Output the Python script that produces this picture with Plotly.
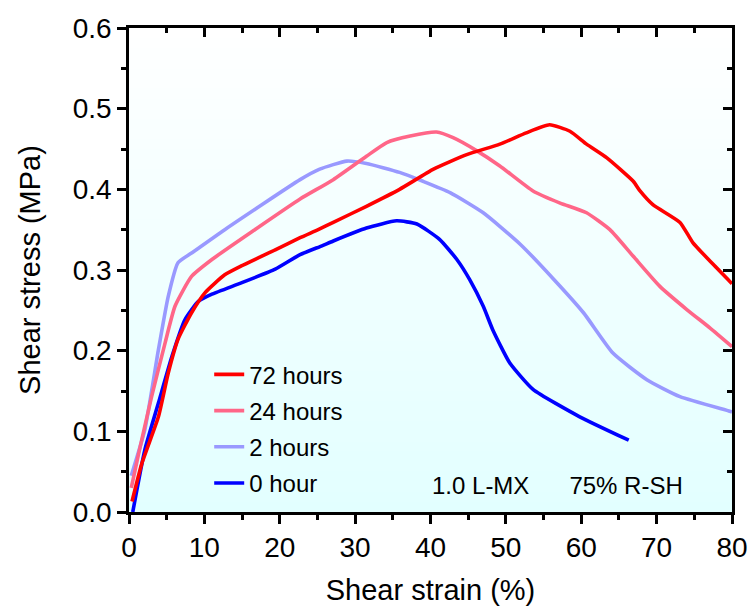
import plotly.graph_objects as go

# ---- data ----
x_72h = [0.4, 1.7, 3.9, 5.2, 6.5, 8.3, 10.1, 12.7, 14.9, 19.4, 22.7, 25.1, 27.1, 31.5, 35.9, 40.4,
         44.8, 49.2, 52.7, 55.8, 58.5, 60.7, 63.4, 66.9, 67.8, 69.5, 73.1, 74.8, 77.5, 80.0]
y_72h = [0.013, 0.060, 0.118, 0.172, 0.214, 0.247, 0.272, 0.294, 0.305, 0.325, 0.340, 0.350, 0.359,
         0.379, 0.400, 0.425, 0.443, 0.456, 0.470, 0.480, 0.472, 0.456, 0.439, 0.410, 0.398, 0.381,
         0.359, 0.334, 0.307, 0.283]

x_24h = [0.3, 1.2, 3.0, 4.8, 6.1, 8.3, 11.0, 16.7, 22.7, 27.1, 31.5, 34.2, 37.3, 40.8, 43.0, 46.1,
         49.2, 53.6, 57.2, 60.7, 63.8, 66.9, 70.4, 74.0, 77.1, 80.0]
y_24h = [0.030, 0.069, 0.143, 0.210, 0.255, 0.292, 0.313, 0.350, 0.388, 0.412, 0.441, 0.458, 0.466,
         0.471, 0.464, 0.448, 0.429, 0.398, 0.383, 0.371, 0.350, 0.317, 0.280, 0.251, 0.228, 0.205]

x_2h = [0.3, 2.1, 3.9, 5.2, 6.5, 8.3, 12.7, 22.7, 25.3, 28.9, 31.5, 35.9, 39.0, 42.6, 47.0, 51.9,
        56.4, 60.3, 64.2, 68.7, 73.1, 79.7, 80.0]
y_2h = [0.045, 0.102, 0.201, 0.267, 0.309, 0.321, 0.350, 0.412, 0.425, 0.435, 0.432, 0.421, 0.410,
        0.396, 0.371, 0.332, 0.288, 0.247, 0.197, 0.164, 0.143, 0.125, 0.124]

x_0h = [0.5, 2.1, 3.9, 5.7, 7.4, 9.2, 11.0, 14.9, 19.4, 22.7, 25.6, 27.1, 31.5, 35.5, 38.2, 41.2,
        43.5, 45.2, 47.0, 48.3, 50.5, 53.6, 59.8, 66.3]
y_0h = [0.0, 0.077, 0.135, 0.193, 0.238, 0.261, 0.270, 0.284, 0.301, 0.319, 0.330, 0.336, 0.352,
        0.361, 0.357, 0.338, 0.313, 0.288, 0.255, 0.225, 0.185, 0.152, 0.118, 0.089]

# (name, x, y, colour, legend rank) — drawn bottom to top
series = [
    ("0 hour", x_0h, y_0h, "#0000FF", 4),
    ("2 hours", x_2h, y_2h, "#9999FF", 3),
    ("24 hours", x_24h, y_24h, "#FF6688", 2),
    ("72 hours", x_72h, y_72h, "#FF0000", 1),
]

x_ticks = [0, 10, 20, 30, 40, 50, 60, 70, 80]
y_ticks = [0.0, 0.1, 0.2, 0.3, 0.4, 0.5, 0.6]

FONT = "Arial, Liberation Sans, sans-serif"

fig = go.Figure()
for name, xs, ys, col, rank in series:
    fig.add_trace(go.Scatter(x=xs, y=ys, name=name, mode="lines",
                             line=dict(color=col, width=3.6, shape="spline", smoothing=0.5),
                             legendgroup=name, legendrank=rank))
# empty trace so the mirrored (top/right) axes are drawn
fig.add_trace(go.Scatter(x=[None], y=[None], xaxis="x2", yaxis="y2", showlegend=False,
                         hoverinfo="skip", mode="lines"))

# gradient background (white -> light cyan)
N = 48
shapes = []
for i in range(N):
    t = (i + 0.5) / N  # 0 bottom -> 1 top
    r = int(round(226 + (255 - 226) * t))
    shapes.append(dict(type="rect", xref="x domain", yref="y domain",
                       x0=0, x1=1, y0=i / N, y1=(i + 1) / N + 0.002,
                       fillcolor=f"rgb({r},255,255)", line=dict(width=0), layer="below"))

axis_common = dict(showgrid=False, zeroline=False, linecolor="black", linewidth=2.5,
                   tickcolor="black", tickwidth=2.5, ticklen=9, showline=True, automargin=False)
tickfont = dict(family=FONT, size=28, color="black")

fig.update_layout(
    width=753, height=606,
    margin=dict(l=129, r=21, t=28, b=94),
    paper_bgcolor="white", plot_bgcolor="white",
    shapes=shapes,
    font=dict(family=FONT, color="black"),
    xaxis=dict(range=[0, 80], tickvals=x_ticks, ticks="outside", tickfont=tickfont,
               minor=dict(dtick=5, ticks="outside", ticklen=5, tickwidth=2.5, tickcolor="black"),
               title=dict(text="Shear strain (%)", font=dict(family=FONT, size=29), standoff=18),
               **axis_common),
    yaxis=dict(range=[0, 0.6], tickvals=y_ticks, tickformat=".1f", ticks="outside", tickfont=tickfont,
               minor=dict(dtick=0.05, ticks="outside", ticklen=5, tickwidth=2.5, tickcolor="black"),
               title=dict(text="Shear stress (MPa)", font=dict(family=FONT, size=29), standoff=24),
               **axis_common),
    xaxis2=dict(range=[0, 80], overlaying="x", side="top", tickvals=x_ticks, ticks="inside",
                showticklabels=False,
                minor=dict(dtick=5, ticks="inside", ticklen=5, tickwidth=2.5, tickcolor="black"),
                **axis_common),
    yaxis2=dict(range=[0, 0.6], overlaying="y", side="right", tickvals=y_ticks, ticks="inside",
                showticklabels=False,
                minor=dict(dtick=0.05, ticks="inside", ticklen=5, tickwidth=2.5, tickcolor="black"),
                **axis_common),
    legend=dict(x=0.133, y=0.33, xanchor="left", yanchor="top", bgcolor="rgba(0,0,0,0)",
                font=dict(family=FONT, size=24, color="black"), traceorder="grouped",
                tracegroupgap=2),
    showlegend=True,
    annotations=[dict(text="1.0 L-MX" + "\u00a0" * 6 + "75% R-SH", xref="paper", yref="paper",
                      x=(557 - 129) / 603, y=(512 - 485) / 484, xanchor="center", yanchor="middle",
                      showarrow=False, font=dict(family=FONT, size=24, color="black"))],
)

fig.write_html("out.html")
